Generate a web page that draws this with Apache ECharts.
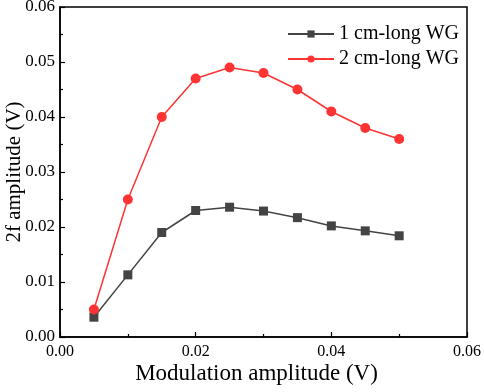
<!DOCTYPE html>
<html>
<head>
<meta charset="utf-8">
<script src="https://cdn.jsdelivr.net/npm/echarts@6/dist/echarts.min.js"></script>
<style>
  html, body { margin: 0; padding: 0; background: #fff; }
  #chart { width: 484px; height: 392px; }
</style>
</head>
<body>
<div id="chart"></div>
<script>
var modAmp = [0.005, 0.010, 0.015, 0.020, 0.025, 0.030, 0.035, 0.040, 0.045, 0.050];
var wg1cm = [0.0036, 0.0113, 0.0190, 0.0230, 0.0236, 0.0229, 0.0217, 0.0202, 0.0193, 0.0184];
var wg2cm = [0.0050, 0.0250, 0.0400, 0.0470, 0.0490, 0.0480, 0.0450, 0.0410, 0.0380, 0.0360];
var seriesNames = ['1 cm-long WG', '2 cm-long WG'];

function pairs(ys) {
  return modAmp.map(function (x, i) { return [x, ys[i]]; });
}

var font = 'Liberation Serif';
var myChart = echarts.init(document.getElementById('chart'));

var option = {
  animation: false,
  grid: {
    left: 60, right: 17, top: 7, bottom: 55,
    outerBoundsMode: 'none',
    containLabel: false,
    show: true,
    borderColor: '#000',
    borderWidth: 1.5
  },
  legend: {
    left: 282,
    top: 19,
    orient: 'vertical',
    itemWidth: 46,
    itemHeight: 9,
    itemGap: 5,
    textStyle: { fontFamily: font, fontSize: 20, color: '#000' },
    data: seriesNames
  },
  xAxis: {
    type: 'value',
    min: 0, max: 0.06, interval: 0.02,
    name: 'Modulation amplitude (V)',
    nameLocation: 'middle',
    nameGap: 25,
    nameMoveOverlap: false,
    nameTextStyle: { fontFamily: font, fontSize: 23, color: '#000', padding: [0, 14, 0, 0] },
    axisLine: { lineStyle: { color: '#000', width: 1.5 } },
    axisTick: { inside: true, length: 5, lineStyle: { color: '#000', width: 1.2 } },
    minorTick: { show: true, splitNumber: 2, length: 3, lineStyle: { color: '#000', width: 1.2 } },
    splitLine: { show: false },
    axisLabel: {
      fontFamily: font, fontSize: 16, color: '#000', margin: 7,
      formatter: function (v) { return v.toFixed(2); }
    }
  },
  yAxis: {
    type: 'value',
    min: 0, max: 0.06, interval: 0.01,
    name: '2f amplitude (V)',
    nameLocation: 'middle',
    nameGap: 35,
    nameMoveOverlap: false,
    nameTextStyle: { fontFamily: font, fontSize: 21, color: '#000' },
    axisLine: { lineStyle: { color: '#000', width: 1.5 } },
    axisTick: { inside: true, length: 5, lineStyle: { color: '#000', width: 1.2 } },
    minorTick: { show: true, splitNumber: 2, length: 3, lineStyle: { color: '#000', width: 1.2 } },
    splitLine: { show: false },
    axisLabel: {
      fontFamily: font, fontSize: 17, color: '#000', margin: 5,
      formatter: function (v) { return v.toFixed(2); }
    }
  },
  series: [
    {
      name: seriesNames[0],
      type: 'line',
      data: pairs(wg1cm),
      symbol: 'rect',
      symbolSize: 9,
      color: '#444',
      lineStyle: { color: '#444', width: 1.5 },
      itemStyle: { color: '#444' }
    },
    {
      name: seriesNames[1],
      type: 'line',
      data: pairs(wg2cm),
      symbol: 'circle',
      symbolSize: 10,
      color: '#f33',
      lineStyle: { color: '#f33', width: 1.5 },
      itemStyle: { color: '#f33' }
    }
  ]
};

myChart.setOption(option);
</script>
</body>
</html>
